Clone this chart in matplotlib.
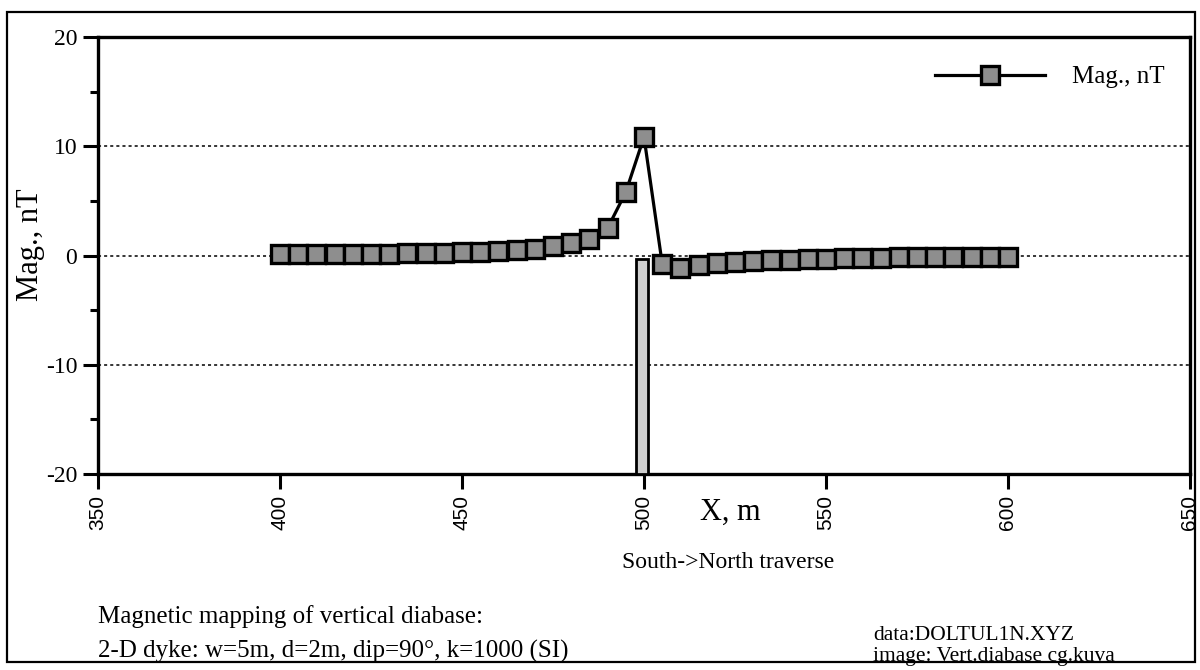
import numpy as np
import matplotlib
matplotlib.use("Agg")
import matplotlib.pyplot as plt
from matplotlib.patches import Rectangle
from matplotlib.ticker import MultipleLocator

plt.rcParams["axes.unicode_minus"] = False

# profile data, 5 m station spacing
x_m = [400, 405, 410, 415, 420, 425, 430, 435, 440, 445,
       450, 455, 460, 465, 470, 475, 480, 485, 490, 495,
       500, 505, 510, 515, 520, 525, 530, 535, 540, 545,
       550, 555, 560, 565, 570, 575, 580, 585, 590, 595, 600]
mag_nT = [0.10, 0.11, 0.12, 0.13, 0.14, 0.16, 0.18, 0.20, 0.22, 0.25,
          0.28, 0.33, 0.40, 0.50, 0.62, 0.85, 1.15, 1.55, 2.50, 5.80,
          10.85, -0.75, -1.10, -0.90, -0.72, -0.60, -0.50, -0.43, -0.37, -0.32,
          -0.28, -0.25, -0.22, -0.20, -0.18, -0.16, -0.15, -0.14, -0.13, -0.12, -0.11]

# dyke body drawn as a bar
dyke_x = [499.5]
dyke_top = [-0.3]
dyke_bottom = -20
dyke_width = 3.2

serif = "Liberation Serif"
sans = "Liberation Sans"

fig = plt.figure(figsize=(12, 6.7), dpi=100)
ax = fig.add_axes([98/1200, 1-474/670, 1092/1200, 437/670])

ax.bar(dyke_x, [t - dyke_bottom for t in dyke_top], bottom=dyke_bottom, width=dyke_width,
       color="#cfcfcf", edgecolor="black", linewidth=2, zorder=3)

for g in [-10, 0, 10]:
    ax.axhline(g, color="black", linestyle=(0, (2, 2)), linewidth=1.1, zorder=1)

ax.plot(x_m, mag_nT, color="black", linewidth=2.3, marker="s", markersize=13,
        markerfacecolor="#8e8e8e", markeredgecolor="black", markeredgewidth=2.4,
        label="Mag., nT", zorder=4)

ax.set_xlim(350, 650)
ax.set_ylim(-20, 20)
ax.xaxis.set_major_locator(MultipleLocator(50))
ax.yaxis.set_major_locator(MultipleLocator(10))
ax.yaxis.set_minor_locator(MultipleLocator(5))

for s in ax.spines.values():
    s.set_linewidth(2.4)
ax.tick_params(axis="y", which="major", direction="out", length=11, width=2.2,
               labelsize=17, pad=4)
ax.tick_params(axis="y", which="minor", direction="out", length=5.5, width=2.2)
ax.tick_params(axis="x", which="major", direction="out", length=11, width=2.2,
               labelsize=15, pad=4, labelrotation=90)
for lab in ax.get_yticklabels():
    lab.set_fontfamily(serif)
for lab in ax.get_xticklabels():
    lab.set_fontfamily(sans)

ax.set_ylabel("Mag., nT", fontsize=22, fontfamily=serif)
ax.yaxis.set_label_coords((45-98)/1092, (474-245)/437)

leg = ax.legend(loc="center left", bbox_to_anchor=((935-98)/1092, (474-77)/437),
                frameon=False, borderpad=0, borderaxespad=0, handlelength=4.4,
                handletextpad=1.1, prop={"family": serif, "size": 18})

fig.text(730/1200, 1-512/670, "X, m", fontsize=22, fontfamily=serif,
         ha="center", va="center")
fig.text(728/1200, 1-563/670, "South->North traverse", fontsize=17, fontfamily=serif,
         ha="center", va="center")
fig.text(98/1200, 1-617/670, "Magnetic mapping of vertical diabase:", fontsize=18,
         fontfamily=serif, ha="left", va="center")
fig.text(98/1200, 1-651/670, "2-D dyke: w=5m, d=2m, dip=90°, k=1000 (SI)", fontsize=18,
         fontfamily=serif, ha="left", va="center")
fig.text(873/1200, 1-636/670, "data:DOLTUL1N.XYZ", fontsize=15.5,
         fontfamily=serif, ha="left", va="center")
fig.text(873/1200, 1-657/670, "image: Vert.diabase cg.kuva", fontsize=15.5,
         fontfamily=serif, ha="left", va="center")

fig.patches.append(Rectangle((7/1200, 1-662/670), 1188/1200, 650/670,
                             transform=fig.transFigure, fill=False,
                             edgecolor="black", linewidth=1.6))

fig.savefig("out.png", dpi=100)
